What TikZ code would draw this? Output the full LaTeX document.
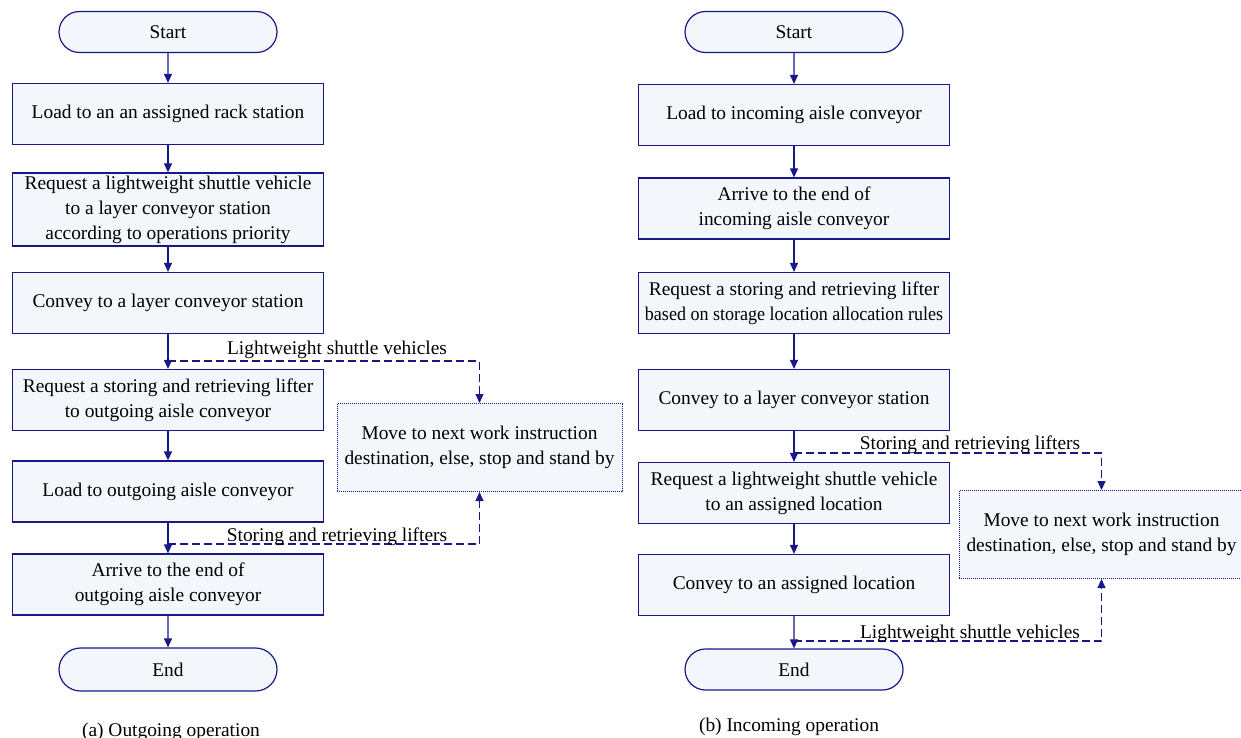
\documentclass[tikz,border=0pt]{standalone}
\usepackage{fontspec}
\setmainfont{Liberation Serif}
\usetikzlibrary{arrows.meta,shapes.misc}
\definecolor{flownavy}{RGB}{24,24,138}
\definecolor{flowfill}{RGB}{243,246,251}

\begin{document}
\begin{tikzpicture}[x=0.5pt,y=-0.5pt]
			\tikzset{
			  every node/.style = { font = \fontsize{9.7}{12.5}\selectfont },
			  TermStyle/.style = { rounded rectangle, draw = flownavy, fill = flowfill,
			                       line width = 0.6pt, minimum width = 111pt,
			                       minimum height = 20.5pt, inner sep = 1pt },
			  ProcStyle/.style = { rectangle, draw = flownavy, fill = flowfill,
			                       line width = 0.6pt, minimum width = 155.5pt,
			                       minimum height = 30.5pt, inner sep = 1pt, align = center },
			  WaitStyle/.style = { rectangle, draw = flownavy, fill = flowfill,
			                       line width = 0.5pt, dash pattern = on 0.5pt off 0.5pt,
			                       minimum width = 142.5pt, minimum height = 44pt, align = center },
			  FlowEdge/.style = { draw = flownavy, line width = 0.55pt,
			                      -{Triangle[length = 4.5pt, width = 4pt]} },
			  LinkEdge/.style = { FlowEdge, dash pattern = on 4pt off 2pt },
			  LabelStyle/.style = { anchor = base, inner sep = 0pt } }
			\useasboundingbox (0,0) rectangle (1241,738);
			% (a) outgoing
			\node[TermStyle] (startA) at (168,32) {Start};
			\node[ProcStyle] (loadRack) at (168,114) {Load to an an assigned rack station};
			\node[ProcStyle, minimum height = 36.5pt] (reqShuttleA) at (168,209.5)
			  {Request a lightweight shuttle vehicle\\to a layer conveyor station\\according to operations priority};
			\node[ProcStyle] (conveyLayerA) at (168,303) {Convey to a layer conveyor station};
			\node[ProcStyle] (reqLifterA) at (168,400) {Request a storing and retrieving lifter\\to outgoing aisle conveyor};
			\node[ProcStyle] (loadOut) at (168,491.5) {Load to outgoing aisle conveyor};
			\node[ProcStyle] (arriveOut) at (168,584.5) {Arrive to the end of\\outgoing aisle conveyor};
			\node[TermStyle, minimum height = 21.5pt] (endA) at (168,669.5) {End};
			\node[WaitStyle] (waitA) at (479.5,447.5) {Move to next work instruction\\destination, else, stop and stand by};
			% (b) incoming
			\node[TermStyle] (startB) at (794,32) {Start};
			\node[ProcStyle] (loadIn) at (794,115) {Load to incoming aisle conveyor};
			\node[ProcStyle] (arriveIn) at (794,208.5) {Arrive to the end of\\incoming aisle conveyor};
			\node[ProcStyle] (reqLifterB) at (794,303)
			  {Request a storing and retrieving lifter\\\scalebox{0.93}[1]{based on storage location allocation rules}};
			\node[ProcStyle] (conveyLayerB) at (794,400) {Convey to a layer conveyor station};
			\node[ProcStyle] (reqShuttleB) at (794,493) {Request a lightweight shuttle vehicle\\to an assigned location};
			\node[ProcStyle] (conveyLoc) at (794,585) {Convey to an assigned location};
			\node[TermStyle] (endB) at (794,669.5) {End};
			\node[WaitStyle] (waitB) at (1101.5,534.5) {Move to next work instruction\\destination, else, stop and stand by};
			% main flow
			\draw[FlowEdge] (startA) -- (loadRack);
			\draw[FlowEdge] (loadRack) -- (reqShuttleA);
			\draw[FlowEdge] (reqShuttleA) -- (conveyLayerA);
			\draw[FlowEdge] (conveyLayerA) -- (reqLifterA);
			\draw[FlowEdge] (reqLifterA) -- (loadOut);
			\draw[FlowEdge] (loadOut) -- (arriveOut);
			\draw[FlowEdge] (arriveOut) -- (endA);
			\draw[FlowEdge] (startB) -- (loadIn);
			\draw[FlowEdge] (loadIn) -- (arriveIn);
			\draw[FlowEdge] (arriveIn) -- (reqLifterB);
			\draw[FlowEdge] (reqLifterB) -- (conveyLayerB);
			\draw[FlowEdge] (conveyLayerB) -- (reqShuttleB);
			\draw[FlowEdge] (reqShuttleB) -- (conveyLoc);
			\draw[FlowEdge] (conveyLoc) -- (endB);
			% released vehicles and lifters
			\coordinate (forkA1) at (168,361);
			\coordinate (forkA2) at (168,544);
			\coordinate (forkB1) at (794,453);
			\coordinate (forkB2) at (794,641);
			\draw[LinkEdge] (forkA1) -| (waitA.north);
			\draw[LinkEdge] (forkA2) -| (waitA.south);
			\draw[LinkEdge] (forkB1) -| (waitB.north);
			\draw[LinkEdge] (forkB2) -| (waitB.south);
			\node[LabelStyle] (vehA) at (337,354) {Lightweight shuttle vehicles};
			\node[LabelStyle] (liftA) at (337,541) {Storing and retrieving lifters};
			\node[LabelStyle] (liftB) at (970,449) {Storing and retrieving lifters};
			\node[LabelStyle] (vehB) at (970,638) {Lightweight shuttle vehicles};
			% captions
			\node[LabelStyle] (capA) at (171,736) {(a) Outgoing operation};
			\node[LabelStyle] (capB) at (789,731) {(b) Incoming operation};
		\end{tikzpicture}
\end{document}
